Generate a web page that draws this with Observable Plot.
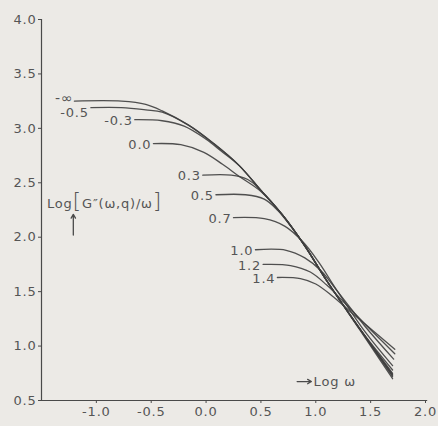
<!DOCTYPE html>
<html>
<head>
<meta charset="utf-8">
<script src="https://cdn.jsdelivr.net/npm/d3@7"></script>
<script src="https://cdn.jsdelivr.net/npm/@observablehq/plot@0.6"></script>
<style>
  html, body { margin: 0; padding: 0; background: #eceae6; }
  #chart svg { display: block; }
</style>
</head>
<body>
<div id="chart"></div>
<script>
// Curve labels (log q)
const seriesLabels = ["-∞", "-0.5", "-0.3", "0.0", "0.3", "0.5", "0.7", "1.0", "1.2", "1.4"];

// log ω values
const seriesX = [
  [-1.20, -0.77, -0.55, -0.40, -0.16, 0.07, 0.30, 0.50, 0.70, 0.90, 1.10, 1.40, 1.70],
  [-1.05, -0.77, -0.55, -0.40, -0.16, 0.07, 0.30, 0.50, 0.70, 0.90, 1.10, 1.40, 1.70],
  [-0.65, -0.40, -0.20, 0.00, 0.14, 0.30, 0.50, 0.70, 0.90, 1.10, 1.40, 1.70],
  [-0.48, -0.23, -0.02, 0.15, 0.30, 0.50, 0.70, 0.90, 1.10, 1.40, 1.70],
  [-0.03, 0.23, 0.38, 0.50, 0.70, 0.90, 1.10, 1.40, 1.70],
  [0.09, 0.36, 0.53, 0.65, 0.78, 0.90, 1.10, 1.40, 1.70],
  [0.25, 0.53, 0.72, 0.88, 1.02, 1.20, 1.45, 1.70],
  [0.45, 0.73, 0.90, 1.05, 1.20, 1.45, 1.71],
  [0.52, 0.77, 0.95, 1.10, 1.25, 1.48, 1.72],
  [0.65, 0.86, 1.00, 1.15, 1.30, 1.50, 1.72]
];

// log[G''(ω,q)/ω] values
const seriesY = [
  [3.25, 3.25, 3.22, 3.16, 3.03, 2.86, 2.66, 2.43, 2.20, 1.92, 1.60, 1.15, 0.70],
  [3.19, 3.19, 3.17, 3.15, 3.03, 2.86, 2.66, 2.43, 2.20, 1.92, 1.60, 1.16, 0.72],
  [3.08, 3.07, 3.02, 2.90, 2.79, 2.66, 2.43, 2.20, 1.92, 1.60, 1.16, 0.73],
  [2.86, 2.85, 2.78, 2.67, 2.56, 2.42, 2.20, 1.92, 1.60, 1.16, 0.74],
  [2.57, 2.57, 2.53, 2.43, 2.20, 1.92, 1.60, 1.16, 0.75],
  [2.39, 2.39, 2.35, 2.25, 2.09, 1.92, 1.60, 1.16, 0.78],
  [2.18, 2.17, 2.10, 1.96, 1.78, 1.50, 1.13, 0.82],
  [1.885, 1.88, 1.81, 1.69, 1.50, 1.18, 0.88],
  [1.75, 1.74, 1.68, 1.56, 1.41, 1.17, 0.93],
  [1.63, 1.62, 1.57, 1.46, 1.33, 1.16, 0.97]
];

const xTicks = [-1.0, -0.5, 0.0, 0.5, 1.0, 1.5, 2.0];
const yTicks = [0.5, 1.0, 1.5, 2.0, 2.5, 3.0, 3.5, 4.0];

const yLabelText = "Log[G\u2033(ω,q)/ω]";
const xLabelText = "Log ω";

const rows = seriesLabels.flatMap((s, i) =>
  seriesX[i].map((x, j) => ({series: s, x, y: seriesY[i][j]})));
const starts = seriesLabels.map((s, i) => ({series: s, x: seriesX[i][0], y: seriesY[i][0]}));

const ink = "#4a4a4a";
const labelInk = "#555";
const fontFamily = "'DejaVu Sans', sans-serif";

const chart = Plot.plot({
  width: 438,
  height: 426,
  marginLeft: 41,
  marginRight: 13,
  marginTop: 19,
  marginBottom: 26,
  style: {background: "transparent", fontFamily, fontSize: "13px", color: ink, letterSpacing: "0.8px"},
  x: {domain: [-1.5, 2.0]},
  y: {domain: [0.5, 4.0]},
  marks: [
    Plot.ruleX([-1.5], {y1: 0.5, y2: 4.0, stroke: ink, strokeWidth: 1.2}),
    Plot.ruleY([0.5], {x1: -1.5, x2: 2.02, stroke: ink, strokeWidth: 1.2}),
    Plot.axisY({ticks: yTicks, tickSize: 3, tickPadding: 2, tickFormat: d => d.toFixed(1), label: null, fill: labelInk, stroke: ink}),
    Plot.axisX({ticks: xTicks, tickSize: 3, tickPadding: 3, tickFormat: d => d.toFixed(1), label: null, fill: labelInk, stroke: ink}),
    Plot.line(rows, {x: "x", y: "y", z: "series", curve: "catmull-rom", stroke: "#3e3e3e", strokeWidth: 1.3, strokeOpacity: 0.9}),
    Plot.text(starts.filter(d => d.series === "-∞"), {x: "x", y: "y", text: "series", textAnchor: "end", dx: -1, dy: -3, fill: labelInk, fontSize: 14}),
    Plot.text(starts.filter(d => d.series === "-0.5"), {x: "x", y: "y", text: "series", textAnchor: "end", dx: -2, dy: 5, fill: labelInk, fontSize: 13}),
    Plot.text(starts.filter(d => d.series !== "-∞" && d.series !== "-0.5"), {x: "x", y: "y", text: "series", textAnchor: "end", dx: -2, dy: 1, fill: labelInk, fontSize: 13}),
    Plot.text([yLabelText], {x: -1.45, y: 2.31, text: d => d, textAnchor: "start", fill: labelInk, fontSize: 13}),
    Plot.arrow([0], {x1: -1.21, x2: -1.21, y1: 2.02, y2: 2.21, stroke: ink, strokeWidth: 1.3, headLength: 5}),
    Plot.arrow([0], {x1: 0.83, x2: 0.96, y1: 0.674, y2: 0.674, stroke: ink, strokeWidth: 1.3, headLength: 5}),
    Plot.text([xLabelText], {x: 0.98, y: 0.674, text: d => d, textAnchor: "start", fill: labelInk, fontSize: 13})
  ]
});

// enlarge brackets in the y label
d3.select(chart).selectAll("text").each(function() {
  if (this.textContent === yLabelText) {
    const t = d3.select(this);
    t.text(null);
    t.append("tspan").text("Log");
    t.append("tspan").attr("font-size", 22).attr("font-weight", 200).text("[");
    t.append("tspan").text("G\u2033(ω,q)/ω");
    t.append("tspan").attr("font-size", 22).attr("font-weight", 200).text("]");
  }
});

document.getElementById("chart").appendChild(chart);
</script>
</body>
</html>
